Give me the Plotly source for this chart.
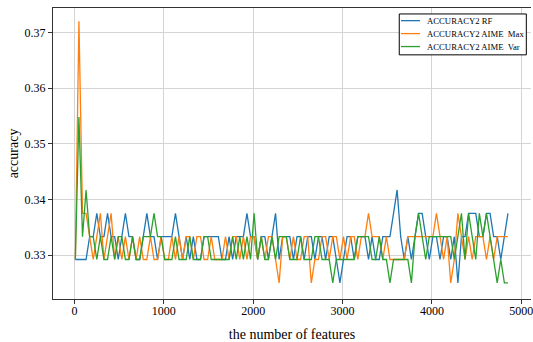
import plotly.graph_objects as go

# number of features (x axis grid of the experiment)
feature_counts = list(range(10, 4851, 40))

acc_rf = [
    0.3292, 0.3292, 0.3292, 0.3292, 0.3333, 0.3333, 0.3375, 0.3333, 0.3333, 0.3375,
    0.3333, 0.3333, 0.3292, 0.3333, 0.3375, 0.3333, 0.3333, 0.3292, 0.3292, 0.3333,
    0.3375, 0.3333, 0.3333, 0.3292, 0.3333, 0.3333, 0.3333, 0.3333, 0.3375, 0.3333,
    0.3292, 0.3333, 0.3292, 0.3333, 0.3292, 0.3292, 0.3333, 0.3333, 0.3333, 0.3333,
    0.3333, 0.3292, 0.3292, 0.3333, 0.3292, 0.3333, 0.3333, 0.3333, 0.3375, 0.3333,
    0.3333, 0.3292, 0.3333, 0.3333, 0.3292, 0.3333, 0.3375, 0.3292, 0.3333, 0.3333,
    0.3333, 0.3292, 0.3333, 0.3333, 0.3292, 0.3333, 0.3333, 0.3292, 0.3333, 0.3333,
    0.3292, 0.3333, 0.3333, 0.3292, 0.3250, 0.3292, 0.3333, 0.3333, 0.3292, 0.3333,
    0.3333, 0.3333, 0.3292, 0.3333, 0.3292, 0.3292, 0.3333, 0.3333, 0.3333, 0.3375,
    0.3417, 0.3333, 0.3292, 0.3333, 0.3292, 0.3333, 0.3375, 0.3375, 0.3333, 0.3292,
    0.3333, 0.3333, 0.3292, 0.3333, 0.3333, 0.3292, 0.3333, 0.3250, 0.3333, 0.3333,
    0.3375, 0.3375, 0.3375, 0.3333, 0.3333, 0.3375, 0.3375, 0.3333, 0.3333, 0.3292,
    0.3333, 0.3375,
]

acc_aime_max = [
    0.3292, 0.3720, 0.3375, 0.3375, 0.3333, 0.3292, 0.3333, 0.3375, 0.3292, 0.3333,
    0.3375, 0.3292, 0.3333, 0.3292, 0.3333, 0.3292, 0.3333, 0.3292, 0.3333, 0.3292,
    0.3292, 0.3333, 0.3292, 0.3292, 0.3333, 0.3292, 0.3292, 0.3333, 0.3292, 0.3333,
    0.3292, 0.3333, 0.3333, 0.3292, 0.3333, 0.3333, 0.3292, 0.3292, 0.3333, 0.3292,
    0.3292, 0.3292, 0.3333, 0.3292, 0.3333, 0.3333, 0.3292, 0.3333, 0.3292, 0.3333,
    0.3333, 0.3292, 0.3333, 0.3292, 0.3333, 0.3333, 0.3292, 0.3250, 0.3333, 0.3333,
    0.3292, 0.3333, 0.3292, 0.3292, 0.3333, 0.3333, 0.3250, 0.3292, 0.3292, 0.3333,
    0.3333, 0.3292, 0.3333, 0.3333, 0.3292, 0.3333, 0.3292, 0.3333, 0.3333, 0.3292,
    0.3333, 0.3333, 0.3375, 0.3333, 0.3333, 0.3333, 0.3292, 0.3333, 0.3292, 0.3292,
    0.3292, 0.3292, 0.3292, 0.3333, 0.3333, 0.3333, 0.3333, 0.3333, 0.3333, 0.3333,
    0.3333, 0.3375, 0.3333, 0.3292, 0.3333, 0.3250, 0.3292, 0.3375, 0.3333, 0.3292,
    0.3333, 0.3292, 0.3333, 0.3333, 0.3333, 0.3292, 0.3333, 0.3292, 0.3333, 0.3333,
    0.3333, 0.3333,
]

acc_aime_var = [
    0.3292, 0.3548, 0.3333, 0.3417, 0.3333, 0.3333, 0.3292, 0.3333, 0.3292, 0.3292,
    0.3333, 0.3292, 0.3333, 0.3333, 0.3292, 0.3292, 0.3333, 0.3292, 0.3292, 0.3333,
    0.3333, 0.3333, 0.3375, 0.3333, 0.3333, 0.3292, 0.3292, 0.3292, 0.3333, 0.3292,
    0.3292, 0.3292, 0.3333, 0.3292, 0.3292, 0.3292, 0.3333, 0.3333, 0.3292, 0.3292,
    0.3292, 0.3292, 0.3292, 0.3292, 0.3333, 0.3292, 0.3333, 0.3292, 0.3333, 0.3292,
    0.3375, 0.3292, 0.3333, 0.3292, 0.3292, 0.3333, 0.3292, 0.3333, 0.3333, 0.3333,
    0.3292, 0.3292, 0.3292, 0.3333, 0.3292, 0.3292, 0.3292, 0.3333, 0.3333, 0.3292,
    0.3292, 0.3292, 0.3250, 0.3292, 0.3292, 0.3292, 0.3292, 0.3292, 0.3292, 0.3333,
    0.3333, 0.3333, 0.3333, 0.3292, 0.3292, 0.3333, 0.3292, 0.3292, 0.3250, 0.3292,
    0.3292, 0.3292, 0.3292, 0.3292, 0.3250, 0.3333, 0.3375, 0.3333, 0.3292, 0.3333,
    0.3333, 0.3333, 0.3333, 0.3333, 0.3333, 0.3333, 0.3292, 0.3333, 0.3375, 0.3292,
    0.3375, 0.3333, 0.3292, 0.3375, 0.3333, 0.3375, 0.3333, 0.3292, 0.3250, 0.3292,
    0.3250, 0.3250,
]

series_names = ["ACCURACY2 RF", "ACCURACY2 AIME\u00a0 Max", "ACCURACY2 AIME\u00a0 Var"]
series_colors = ["#1f77b4", "#ff7f0e", "#2ca02c"]
series_values = [acc_rf, acc_aime_max, acc_aime_var]

x_ticks = [0, 1000, 2000, 3000, 4000, 5000]
x_ticklabels = ["0", "1000", "2000", "3000", "4000", "5000"]
y_ticks = [0.33, 0.34, 0.35, 0.36, 0.37]
y_ticklabels = ["0.33", "0.34", "0.35", "0.36", "0.37"]

FONT = "Liberation Serif"

fig = go.Figure()
for name, color, vals in zip(series_names, series_colors, series_values):
    fig.add_trace(go.Scatter(
        x=feature_counts, y=vals, mode="lines", name=name,
        line=dict(color=color, width=1.3),
    ))

fig.update_layout(
    width=533, height=342,
    margin=dict(l=53, r=0, t=8, b=42),
    plot_bgcolor="white", paper_bgcolor="white",
    font=dict(family=FONT, color="#000000", size=12),
    showlegend=False,
)

fig.update_xaxes(
    range=[-240, 5108],
    tickvals=x_ticks, ticktext=x_ticklabels,
    showgrid=True, gridcolor="#d4d4d4", gridwidth=1,
    zeroline=False,
    showline=True, linecolor="#333333", linewidth=1, mirror=True,
    ticks="outside", ticklen=4, tickcolor="#333333", tickwidth=1,
    ticklabelstandoff=-3,
    ticklabeloverflow="allow",
    tickfont=dict(family=FONT, size=12, color="#000000"),
    title=dict(text="the number of features", font=dict(family=FONT, size=14, color="#000000"), standoff=14),
)
fig.update_yaxes(
    range=[0.3221, 0.3744],
    tickvals=y_ticks, ticktext=y_ticklabels,
    showgrid=True, gridcolor="#d4d4d4", gridwidth=1,
    zeroline=False,
    showline=True, linecolor="#333333", linewidth=1, mirror=False,
    ticks="outside", ticklen=4, tickcolor="#333333", tickwidth=1,
    tickfont=dict(family=FONT, size=12, color="#000000"),
    title=dict(text="accuracy", font=dict(family=FONT, size=14, color="#000000"), standoff=2),
)

# legend box drawn like the original (compact matplotlib-style legend)
legend_x0, legend_x1 = 0.7244, 0.9902
legend_y0, legend_y1 = 0.8390, 0.9795
row_y = [0.9565, 0.9120, 0.8675]
fig.add_shape(type="rect", xref="paper", yref="paper",
              x0=legend_x0, x1=legend_x1, y0=legend_y0, y1=legend_y1,
              line=dict(color="#000000", width=1), fillcolor="white", layer="above")
for name, color, ry in zip(series_names, series_colors, row_y):
    fig.add_shape(type="line", xref="paper", yref="paper",
                  x0=0.7281, x1=0.7677, y0=ry, y1=ry,
                  line=dict(color=color, width=1.3), layer="above")
    fig.add_annotation(xref="paper", yref="paper", x=0.7785, y=ry,
                       xanchor="left", yanchor="middle", showarrow=False,
                       text=name, font=dict(family=FONT, size=8.7, color="#000000"))

fig.write_html("out.html")
